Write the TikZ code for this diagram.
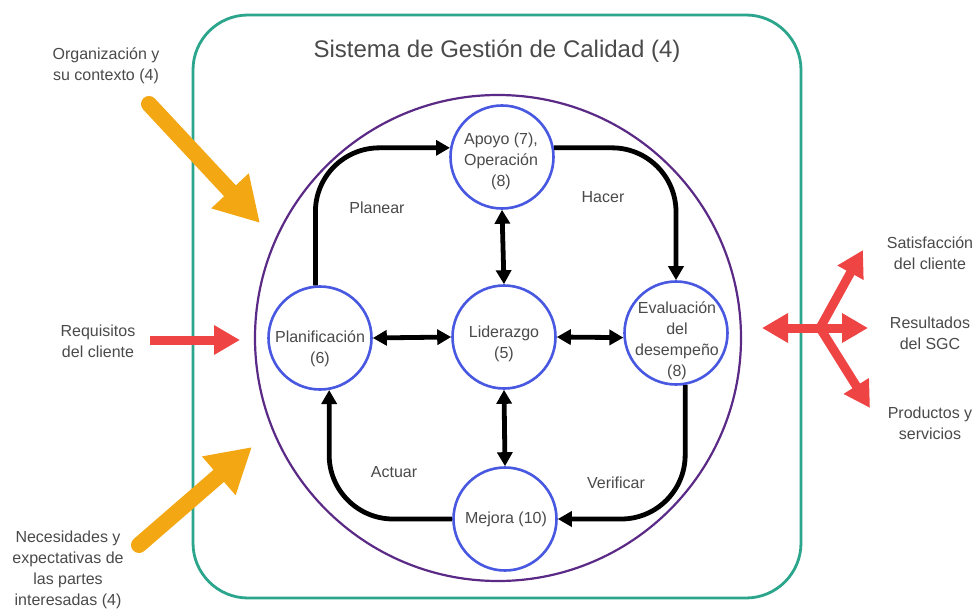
\documentclass[tikz,border=0pt]{standalone}
\usepackage{fontspec}
\setmainfont{Liberation Sans}
\usetikzlibrary{arrows.meta,calc}
\definecolor{tealc}{HTML}{2BA58B}
\definecolor{purp}{HTML}{5B2A86}
\definecolor{blu}{HTML}{4858E0}
\definecolor{orng}{HTML}{F3A712}
\definecolor{redd}{HTML}{EF4444}
\definecolor{txt}{HTML}{4A4A4A}
\begin{document}
\begin{tikzpicture}[x=1pt,y=-1pt,
  circ/.style={circle, draw=blu, line width=2.6pt, minimum size=103pt, inner sep=0pt},
  ctext/.style={text=txt, font=\fontsize{16}{21}\selectfont, align=center, inner sep=0pt},
  lbl/.style={text=txt, font=\fontsize{16}{21}\selectfont, align=center, inner sep=0pt},
  flow/.style={line width=4.8pt, -{Triangle[length=14pt,width=15pt]}, rounded corners=64pt},
  dbl/.style={line width=4.8pt, {Triangle[length=14pt,width=15pt]}-{Triangle[length=14pt,width=15pt]}},
  fatO/.style={orng, line width=16pt, line cap=round, -{Triangle[length=44pt,width=48pt]}},
  fatR/.style={redd, line width=9pt, -{Triangle[length=26pt,width=28pt]}}
]
\useasboundingbox (0,0) rectangle (980,610);
\fill[white] (0,0) rectangle (980,610);

% containers
\node[draw=tealc, line width=2.8pt, rounded corners=55pt, minimum width=608pt, minimum height=583pt, inner sep=0pt] (sgc) at (497,306.5) {};
\node[circle, draw=purp, line width=2.2pt, minimum size=486pt, inner sep=0pt] (pdca) at (498,338) {};
\node[text=txt, font=\fontsize{24}{28}\selectfont, inner sep=0pt] (title) at (497,51) {Sistema de Gestión de Calidad (4)};

% process circles
\node[circ] (apoyo) at (502,157) {};
\node[circ] (plan) at (320,338) {};
\node[circ] (lider) at (504,337) {};
\node[circ] (eval) at (676,333) {};
\node[circ] (mejora) at (505,519) {};

\node[ctext] (apoyoT) at (501,161) {Apoyo (7),\\Operación\\(8)};
\node[ctext] (planT) at (320,349) {Planificación\\(6)};
\node[ctext] (liderT) at (504,344) {Liderazgo\\(5)};
\node[ctext] (evalT) at (677,341) {Evaluación\\del\\desempeño\\(8)};
\node[ctext] (mejoraT) at (506,519) {Mejora (10)};

% cycle
\draw[flow] (plan.95) |- (apoyo.170);
\draw[flow] (apoyo.10) -| (eval.north);
\draw[flow] (eval.-80) |- (mejora.east);
\draw[flow] (mejora.west) -| (plan.-80);

\draw[dbl] (apoyo.south) -- (lider.north);
\draw[dbl] (lider.south) -- (mejora.north);
\draw[dbl] (plan.east) -- (lider.west);
\draw[dbl] (lider.east) -- (eval.185);

\node[lbl] (planear) at (377,208) {Planear};
\node[lbl] (hacer) at (603,197) {Hacer};
\node[lbl] (actuar) at (394,472) {Actuar};
\node[lbl] (verificar) at (616,483) {Verificar};

% inputs
\node[lbl] (org) at (106,66) {Organización y\\su contexto (4)};
\node[lbl] (req) at (98,341) {Requisitos\\del cliente};
\node[lbl] (nec) at (68,570) {Necesidades y\\expectativas de\\las partes\\interesadas (4)};

\coordinate (o1s) at (149,104);
\coordinate (o1e) at (260,223);
\draw[fatO] (o1s) -- (o1e);
\coordinate (o2s) at (139,545);
\coordinate (o2e) at (252,447);
\draw[fatO] (o2s) -- (o2e);
\coordinate (r1s) at (150,340);
\coordinate (r1e) at (240,340);
\draw[fatR] (r1s) -- (r1e);

% outputs
\coordinate (J) at (820,328);
\coordinate (tL) at (762,328);
\coordinate (tR) at (868,328);
\coordinate (tU) at (863,250);
\coordinate (tD) at (870,408);
\draw[fatR] (J) -- (tL);
\draw[fatR] (J) -- (tR);
\draw[fatR] (J) -- (tU);
\draw[fatR] (J) -- (tD);

\node[lbl] (sat) at (930,253) {Satisfacción\\del cliente};
\node[lbl] (res) at (930,333) {Resultados\\del SGC};
\node[lbl] (prod) at (930,423) {Productos y\\servicios};
\end{tikzpicture}
\end{document}
